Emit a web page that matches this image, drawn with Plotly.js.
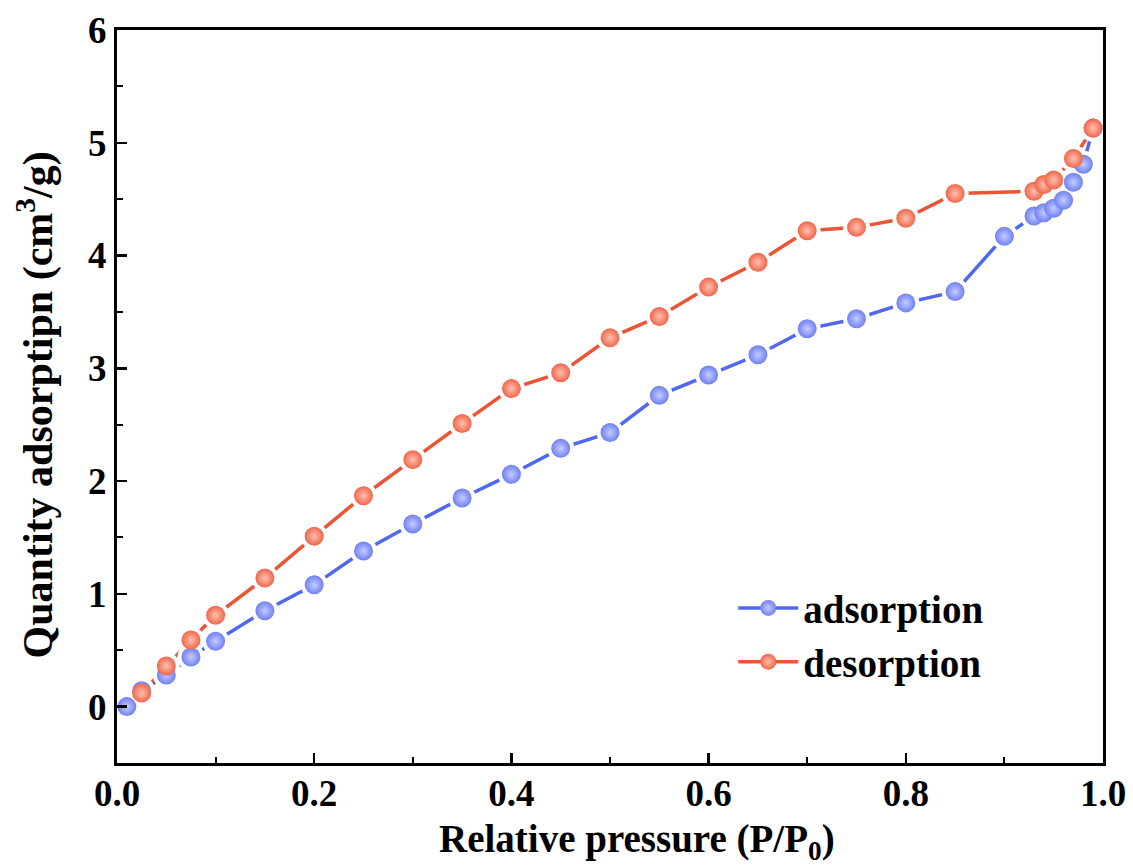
<!DOCTYPE html>
<html>
<head>
<meta charset="utf-8">
<script src="https://cdn.plot.ly/plotly-3.0.1.min.js"></script>
<style>
  html, body { margin: 0; padding: 0; background: #fff; }
  #chart { width: 1133px; height: 868px; }
</style>
</head>
<body>
<div id="chart"></div>
<script>
// Nitrogen isotherm: relative pressure vs. quantity adsorbed
const adsP = [0.01, 0.025, 0.05, 0.075, 0.1, 0.15, 0.2, 0.25, 0.3, 0.35, 0.4, 0.45, 0.5, 0.55, 0.6, 0.65, 0.7, 0.75, 0.8, 0.85, 0.9, 0.93, 0.94, 0.95, 0.96, 0.97, 0.98, 0.99];
const adsQ = [0.0, 0.14, 0.28, 0.44, 0.58, 0.85, 1.08, 1.38, 1.62, 1.85, 2.06, 2.29, 2.43, 2.76, 2.94, 3.12, 3.35, 3.44, 3.58, 3.68, 4.17, 4.35, 4.38, 4.42, 4.49, 4.65, 4.81, 5.13];

const desP = [0.025, 0.05, 0.075, 0.1, 0.15, 0.2, 0.25, 0.3, 0.35, 0.4, 0.45, 0.5, 0.55, 0.6, 0.65, 0.7, 0.75, 0.8, 0.85, 0.93, 0.94, 0.95, 0.97, 0.99];
const desQ = [0.12, 0.36, 0.59, 0.81, 1.14, 1.51, 1.87, 2.19, 2.51, 2.82, 2.96, 3.27, 3.46, 3.72, 3.94, 4.22, 4.25, 4.33, 4.55, 4.57, 4.63, 4.67, 4.86, 5.13];

const xTickVals = [0, 0.2, 0.4, 0.6, 0.8, 1.0];
const xTickText = ['0.0', '0.2', '0.4', '0.6', '0.8', '1.0'];
const yTickVals = [0, 1, 2, 3, 4, 5, 6];

const xTitle = 'Relative pressure (P/P<sub>0</sub>)';
const yTitle = 'Quantity adsorptipn (cm<sup>3</sup>/g)';

const blueLine = '#5068ee', blueDot = '#7080f2';
const redLine = '#eb5434', redDot = '#f0664a';
const serif = '"Liberation Serif", "Times New Roman", serif';
const msize = 19;

function ball(color, hi) {
  return { size: msize, color: color, line: { width: 0 },
           gradient: { type: 'radial', color: hi } };
}

const traces = [
  // connecting lines (these also carry the legend entries)
  { x: adsP, y: adsQ, name: 'adsorption', mode: 'lines+markers',
    line: { color: blueLine, width: 3.5 }, marker: ball(blueDot, '#c4ccff') },
  { x: desP, y: desQ, name: 'desorption', mode: 'lines+markers',
    line: { color: redLine, width: 3.5 }, marker: ball(redDot, '#ffc0b0') },
  // white halos leave a small gap between each line and its points
  { x: adsP, y: adsQ, mode: 'markers', showlegend: false, hoverinfo: 'skip',
    marker: { size: msize + 8, color: '#ffffff' } },
  { x: desP, y: desQ, mode: 'markers', showlegend: false, hoverinfo: 'skip',
    marker: { size: msize + 8, color: '#ffffff' } },
  // shaded points on top
  { x: adsP, y: adsQ, mode: 'markers', showlegend: false,
    marker: ball(blueDot, '#c4ccff') },
  { x: desP, y: desQ, mode: 'markers', showlegend: false,
    marker: ball(redDot, '#ffc0b0') }
];

const axisCommon = {
  showline: true, linecolor: '#000', linewidth: 3, mirror: true,
  ticks: 'inside', ticklen: 10, tickwidth: 2.5, tickcolor: '#000',
  showgrid: false, zeroline: false,
  tickfont: { family: serif, size: 37, color: '#000', weight: 'bold' }
};

const titleFont = { family: serif, size: 39, color: '#000', weight: 'bold' };

const layout = {
  width: 1133, height: 868,
  margin: { l: 117, r: 30, t: 30, b: 105 },
  paper_bgcolor: '#fff', plot_bgcolor: '#fff',
  showlegend: true,
  legend: {
    x: 0.625, y: 0.255, xanchor: 'left', yanchor: 'top',
    bgcolor: 'rgba(0,0,0,0)', borderwidth: 0, itemwidth: 60,
    font: { family: serif, size: 39, color: '#000', weight: 'bold' },
    tracegroupgap: 0
  },
  xaxis: Object.assign({}, axisCommon, {
    range: [0, 1], tickvals: xTickVals, ticktext: xTickText,
    ticklabelstandoff: -4,
    minor: { dtick: 0.1, ticks: 'inside', ticklen: 6, tickwidth: 2, tickcolor: '#000' }
  }),
  yaxis: Object.assign({}, axisCommon, {
    range: [-0.5, 6], tickvals: yTickVals,
    minor: { dtick: 0.5, tick0: 0, ticks: 'inside', ticklen: 6, tickwidth: 2, tickcolor: '#000' }
  }),
  annotations: [
    { text: xTitle, xref: 'paper', yref: 'paper', x: 0.527, y: -0.107,
      xanchor: 'center', yanchor: 'middle', showarrow: false, font: titleFont },
    { text: yTitle, xref: 'paper', yref: 'paper', x: -0.082, y: 0.488,
      xanchor: 'center', yanchor: 'middle', textangle: -90, showarrow: false,
      font: Object.assign({}, titleFont, { size: 42 }) }
  ]
};

Plotly.newPlot('chart', traces, layout, { staticPlot: true, displayModeBar: false });
</script>
</body>
</html>
